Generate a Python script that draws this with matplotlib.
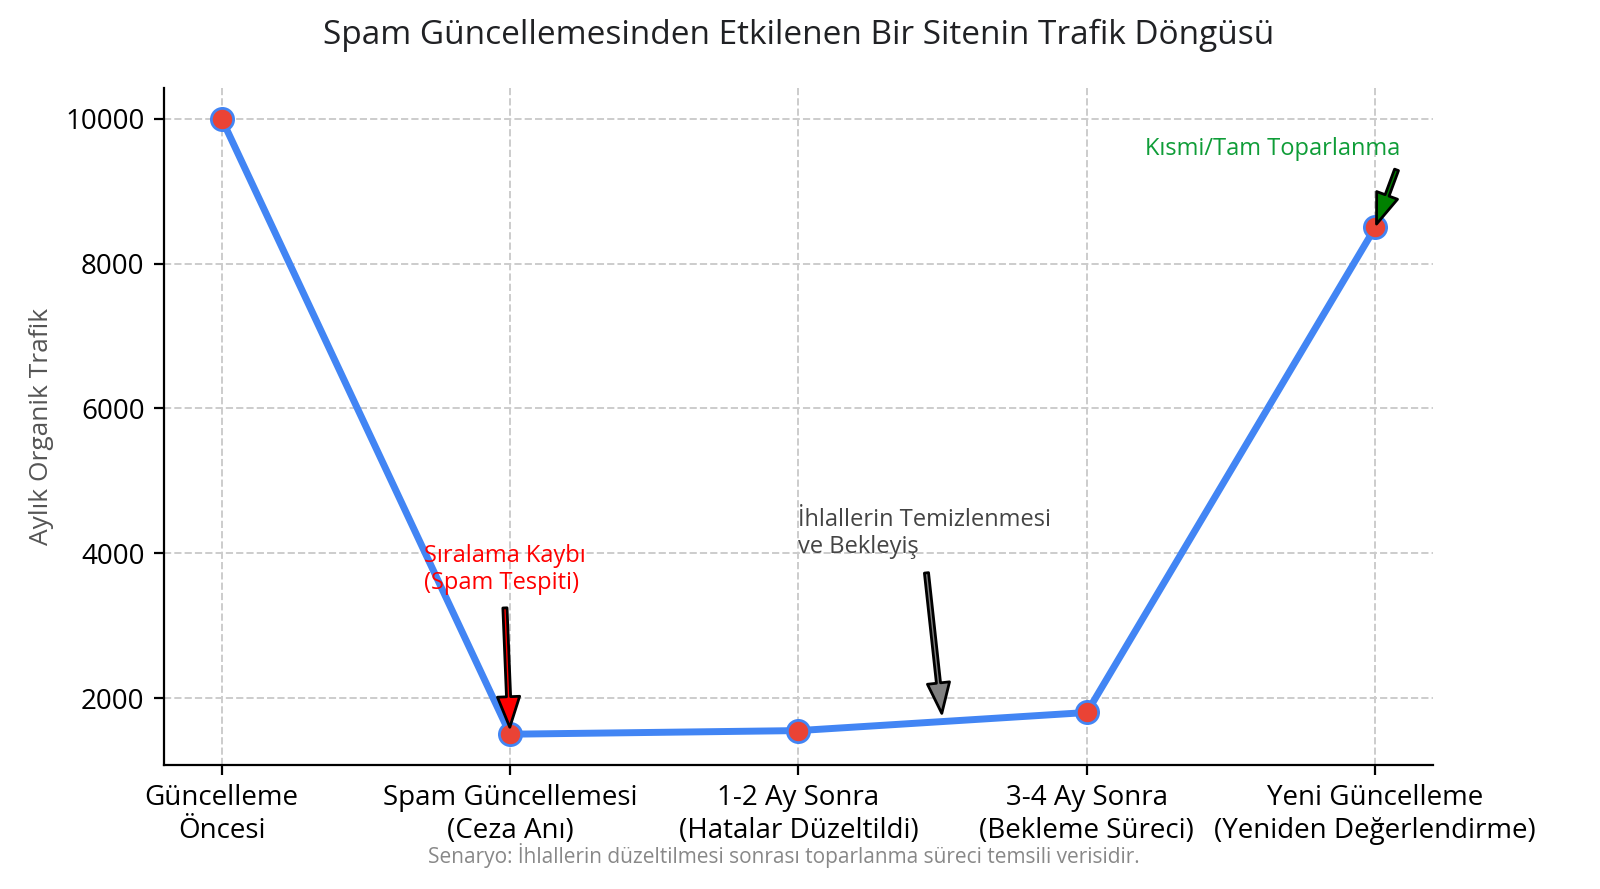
import matplotlib
matplotlib.use("Agg")
import matplotlib.pyplot as plt

plt.rcParams['font.family'] = ['Open Sans', 'DejaVu Sans']

# veriler
asamalar = ['Güncelleme\nÖncesi', 'Spam Güncellemesi\n(Ceza Anı)', '1-2 Ay Sonra\n(Hatalar Düzeltildi)',
            '3-4 Ay Sonra\n(Bekleme Süreci)', 'Yeni Güncelleme\n(Yeniden Değerlendirme)']
trafik = [10000, 1500, 1550, 1800, 8500]
x = list(range(len(asamalar)))

fig = plt.figure(figsize=(8, 4.445), dpi=200)
ax = fig.add_axes([0.1025, 0.1395, 0.7931, 0.7615])

ax.plot(x, trafik, color='#4285F4', lw=2.5, marker='o', markersize=8,
        markerfacecolor='#EA4335', markeredgecolor='#4285F4', markeredgewidth=1)

ax.set_xticks(x)
ax.set_xticklabels(asamalar, fontsize=10)
ax.tick_params(axis='y', labelsize=10)
ax.set_ylabel('Aylık Organik Trafik', fontsize=9.5, color='#555555')
ax.set_title('Spam Güncellemesinden Etkilenen Bir Sitenin Trafik Döngüsü', fontsize=12,
             color='#202124', pad=16)
ax.grid(True, linestyle='--', color='#cccccc', lw=0.7)
ax.spines['top'].set_visible(False)
ax.spines['right'].set_visible(False)

# açıklamalar
ok = dict(shrink=0.05, width=1.5, headwidth=8, headlength=11)
ax.annotate('Sıralama Kaybı\n(Spam Tespiti)', xy=(1, 1500), xytext=(0.7, 3500),
            color='red', fontsize=8.5, arrowprops=dict(facecolor='red', **ok))
ax.annotate('İhlallerin Temizlenmesi\nve Bekleyiş', xy=(2.5, 1675), xytext=(2, 4000),
            color='#444444', fontsize=8.5, arrowprops=dict(facecolor='gray', **ok))
ax.annotate('Kısmi/Tam Toparlanma', xy=(4, 8500), xytext=(3.2, 9500),
            color='#0F9D38', fontsize=8.5, arrowprops=dict(facecolor='green', **ok))

fig.text(0.49, 0.038, 'Senaryo: İhlallerin düzeltilmesi sonrası toparlanma süreci temsili verisidir.',
         ha='center', va='center', fontsize=7.5, color='#888888')

fig.savefig('out.png', dpi=200)
